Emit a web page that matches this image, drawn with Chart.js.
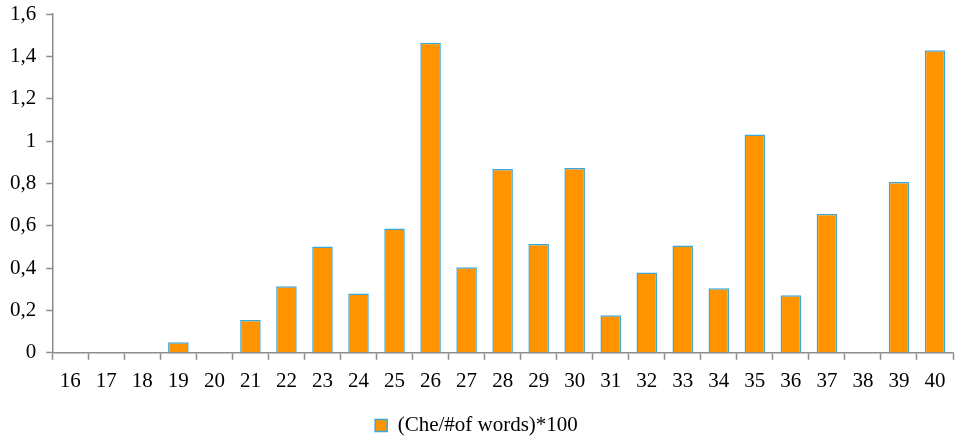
<!DOCTYPE html>
<html>
<head>
<meta charset="utf-8">
<script src="https://cdn.jsdelivr.net/npm/chart.js@4"></script>
<style>
  html, body { margin: 0; padding: 0; background: #fff; }
  #wrap { width: 957px; height: 442px; }
</style>
</head>
<body>
<div id="wrap"><canvas id="statsChart" width="957" height="442"></canvas></div>
<script>
const categories = ['16','17','18','19','20','21','22','23','24','25','26','27','28','29','30','31','32','33','34','35','36','37','38','39','40'];
const cheValues = [0, 0, 0, 0.05, 0, 0.155, 0.315, 0.502, 0.28, 0.587, 1.465, 0.404, 0.868, 0.514, 0.873, 0.178, 0.38, 0.507, 0.305, 1.032, 0.272, 0.657, 0, 0.807, 1.43];
const seriesLabel = '(Che/#of words)*100';

(function () {
    const canvas = document.getElementById('statsChart');
    if (!canvas) return;
    const ctx = canvas.getContext('2d');
    const family = '"Liberation Serif", "DejaVu Serif", serif';
    const font = { family: family, size: 21 };
    const axisColor = '#8c8c8c';

    new Chart(ctx, {
        type: 'bar',
        data: {
            labels: categories,
            datasets: [{
                label: seriesLabel,
                data: cheValues,
                backgroundColor: '#FF9400',
                borderColor: '#3BA8DC',
                borderWidth: 1.5,
                barPercentage: 0.57,
                categoryPercentage: 1
            }]
        },
        options: {
            responsive: false,
            animation: false,
            layout: { padding: { top: 12, right: 4, left: 0, bottom: -4 } },
            plugins: {
                tooltip: { enabled: false },
                legend: {
                    position: 'bottom',
                    labels: {
                        color: '#000',
                        font: font,
                        boxWidth: 12,
                        boxHeight: 12,
                        padding: 12
                    }
                }
            },
            scales: {
                x: {
                    grid: {
                        display: true,
                        drawOnChartArea: false,
                        offset: true,
                        color: axisColor,
                        tickLength: 7,
                        tickWidth: 1.5
                    },
                    border: { color: axisColor, width: 1.5 },
                    ticks: { color: '#000', font: font, maxRotation: 0, autoSkip: false, padding: 9 }
                },
                y: {
                    min: 0,
                    max: 1.6,
                    grid: {
                        display: true,
                        drawOnChartArea: false,
                        color: axisColor,
                        tickLength: 6,
                        tickWidth: 1.5
                    },
                    border: { color: axisColor, width: 1.5 },
                    ticks: {
                        stepSize: 0.2,
                        color: '#000',
                        font: { family: family, size: 21, lineHeight: 0.4 },
                        padding: 10,
                        callback: v => {
                            const r = Math.round(v * 10) / 10;
                            return String(r).replace('.', ',');
                        }
                    }
                }
            }
        }
    });
})();
</script>
</body>
</html>
